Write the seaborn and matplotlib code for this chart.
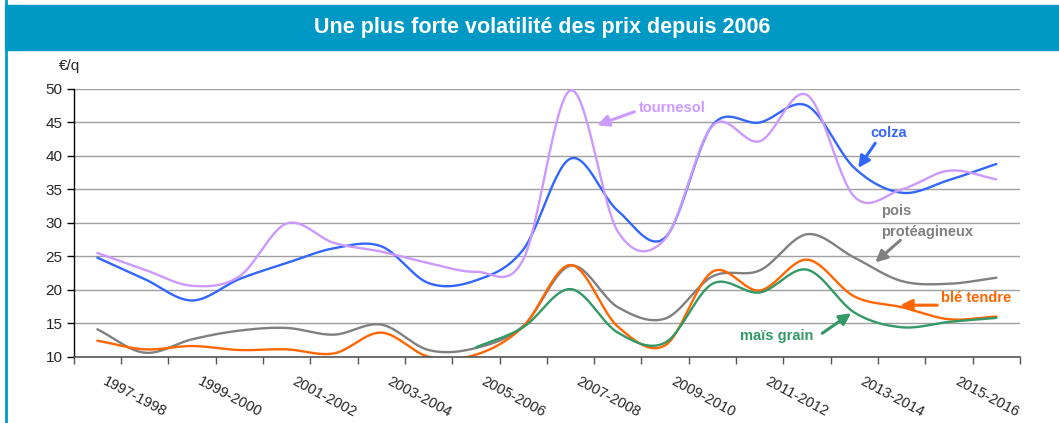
import numpy as np
import pandas as pd
import matplotlib
matplotlib.use("Agg")
import matplotlib.pyplot as plt
import matplotlib.transforms as mtransforms
from matplotlib.patches import Rectangle
import seaborn as sns

campagnes = ["1997-1998", "1998-1999", "1999-2000", "2000-2001", "2001-2002",
             "2002-2003", "2003-2004", "2004-2005", "2005-2006", "2006-2007",
             "2007-2008", "2008-2009", "2009-2010", "2010-2011", "2011-2012",
             "2012-2013", "2013-2014", "2014-2015", "2015-2016", "2016-2017"]

colza = [24.8, 21.6, 18.4, 21.6, 24.0, 26.2, 26.5, 21.0, 21.4, 26.0,
         39.6, 31.8, 27.8, 44.6, 45.0, 47.5, 38.2, 34.5, 36.4, 38.8]
tournesol = [25.5, 23.0, 20.6, 22.0, 29.9, 27.0, 25.7, 24.0, 22.7, 24.5,
             49.8, 28.7, 27.6, 44.5, 42.2, 49.1, 33.9, 35.0, 37.8, 36.5]
pois = [14.1, 10.6, 12.6, 13.9, 14.3, 13.3, 14.8, 11.0, 11.3, 14.6,
        23.6, 17.4, 15.7, 22.0, 22.9, 28.3, 24.8, 21.3, 20.9, 21.8]
ble = [12.4, 11.1, 11.6, 11.0, 11.1, 10.5, 13.6, 10.0, 10.3, 14.5,
       23.7, 14.5, 11.7, 22.7, 19.9, 24.5, 19.0, 17.4, 15.6, 16.0]
mais = [None, None, None, None, None, None, None, None, 11.4, 14.4,
        20.1, 13.6, 12.1, 20.9, 19.6, 23.0, 16.6, 14.4, 15.2, 15.8]

series = {"colza": colza, "tournesol": tournesol, "pois protéagineux": pois,
          "blé tendre": ble, "maïs grain": mais}
couleurs = {"colza": "#3366FF", "tournesol": "#CC99FF",
            "pois protéagineux": "#808080", "blé tendre": "#FF6600",
            "maïs grain": "#339966"}
bandeau = "#0099C6"


def lisser(valeurs, n=30):
    # courbe lissee type Excel (Catmull-Rom) a partir des points annuels
    idx = [i for i, v in enumerate(valeurs) if v is not None]
    p = np.array([valeurs[i] for i in idx], float)
    xs, ys = [], []
    for k in range(len(p) - 1):
        m0 = (p[k + 1] - p[k - 1]) / 2 if k > 0 else p[1] - p[0]
        m1 = (p[k + 2] - p[k]) / 2 if k + 2 < len(p) else p[-1] - p[-2]
        t = np.linspace(0, 1, n, endpoint=(k == len(p) - 2))
        y = ((2 * t**3 - 3 * t**2 + 1) * p[k] + (t**3 - 2 * t**2 + t) * m0
             + (-2 * t**3 + 3 * t**2) * p[k + 1] + (t**3 - t**2) * m1)
        xs.extend(idx[k] + t)
        ys.extend(y)
    return xs, ys


rows = []
for nom, vals in series.items():
    xs, ys = lisser(vals)
    rows += [{"x": a, "prix": b, "produit": nom} for a, b in zip(xs, ys)]
df = pd.DataFrame(rows)

sns.set_theme(style="white")
plt.rcParams["font.family"] = ["Liberation Sans", "DejaVu Sans"]

fig = plt.figure(figsize=(10.59, 4.23), dpi=100)
ax = fig.add_axes([0.0696, 0.1567, 0.8936, 0.6329])

sns.lineplot(data=df, x="x", y="prix", hue="produit", palette=couleurs,
             sort=False, estimator=None, legend=False, lw=1.7, ax=ax)

ax.set_xlim(-0.5, len(campagnes) - 0.5)
ax.set_ylim(10, 50)
ax.set_yticks(range(10, 51, 5))
ax.yaxis.grid(True, color="#a0a0a0", lw=1)
ax.set_axisbelow(True)
ax.set_xlabel("")
ax.set_ylabel("")
for s in ["top", "right"]:
    ax.spines[s].set_visible(False)
ax.spines["left"].set_color("black")
ax.spines["bottom"].set_color("#555555")
ax.spines["left"].set_linewidth(1)
ax.spines["bottom"].set_linewidth(1.2)

ax.set_xticks(range(0, len(campagnes), 2))
ax.set_xticklabels(campagnes[::2], rotation=-28, ha="left", va="top",
                   rotation_mode="anchor", fontsize=10.5)
ax.set_xticks(np.arange(-0.5, len(campagnes), 1), minor=True)
ax.tick_params(axis="x", which="major", length=0, pad=13)
ax.tick_params(axis="x", which="minor", length=5, width=1, color="#555555",
               direction="out", bottom=True)
ax.tick_params(axis="y", length=5, width=1, color="black", direction="out",
               left=True, labelsize=11, pad=3)
decal = mtransforms.ScaledTranslation(10 / 100, 0, fig.dpi_scale_trans)
for lab in ax.get_xticklabels():
    lab.set_transform(lab.get_transform() + decal)

# bandeau de titre et cadre
fig.patches.append(Rectangle((6 / 1059, -0.1), 1.2, 1.2, transform=fig.transFigure,
                             fill=False, edgecolor=bandeau, lw=2))
fig.patches.append(Rectangle((5 / 1059, 1 - 50 / 423), 1.0, 45 / 423,
                             transform=fig.transFigure, color=bandeau))
fig.text(0.512, 1 - 28 / 423, "Une plus forte volatilité des prix depuis 2006",
         color="white", fontsize=15.5, fontweight="bold", ha="center", va="center")
fig.text(70 / 1059, 1 - 66 / 423, "€/q", fontsize=11, ha="center", va="center")

# etiquettes avec fleches
fleche = dict(arrowstyle="-|>", lw=2.2, mutation_scale=17, shrinkA=0, shrinkB=0)
annot = [("tournesol", 11.45, 47.1, (10.56, 44.6), (11.35, 46.6), "left"),
         ("colza", 16.72, 43.5, (16.08, 38.2), (16.44, 41.9), "center"),
         ("pois\nprotéagineux", 16.57, 30.2, (16.44, 24.1), (16.97, 27.4), "left"),
         ("blé tendre", 17.82, 18.75, (16.97, 17.7), (17.75, 17.7), "left"),
         ("maïs grain", 13.59, 13.1, (15.93, 16.5), (15.32, 13.5), "left")]
cles = ["tournesol", "colza", "pois protéagineux", "blé tendre", "maïs grain"]
for (txt, tx, ty, tete, queue, ha), cle in zip(annot, cles):
    c = couleurs[cle]
    ax.text(tx, ty, txt, color=c, fontsize=10.5, fontweight="bold",
            ha=ha, va="center", linespacing=1.7)
    ax.annotate("", xy=tete, xytext=queue,
                arrowprops=dict(fleche, color=c))

fig.savefig("out.png", dpi=100)
